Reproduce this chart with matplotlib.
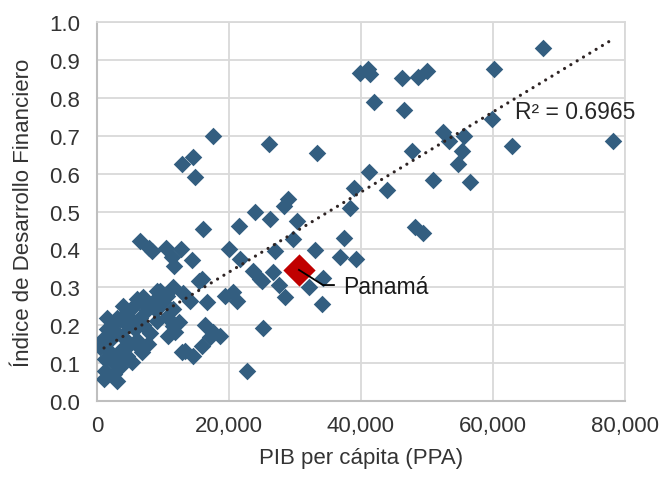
import matplotlib
matplotlib.use("Agg")
import matplotlib.pyplot as plt
from matplotlib.ticker import FuncFormatter

plt.rcParams['font.family'] = ['Liberation Sans', 'DejaVu Sans']

# PIB per capita (PPA) and financial development index
pib = [67600, 60100, 59800, 62900, 78200,
       39800, 41000, 41300, 46200, 48600, 50000,
       42000, 46500, 33300, 52400, 53300, 55600, 55300, 54700, 47700,
       41200, 50900, 56500, 39000, 43900, 38400, 48200, 49400, 39200,
       28900, 28300, 26200, 30300, 29700, 27000, 33000, 37400, 36800,
       26700, 25000, 27600, 28500, 32100, 34200, 34100,
       23900, 21500, 16000, 20000, 21700, 23600, 24700,
       17600, 14500, 12900, 14800, 26100,
       6500, 7900, 10500, 12700,
       11400, 14400, 11700, 15900, 16700, 19400, 20600, 21200,
       16400, 17600, 18600, 15900, 25100, 22700,
       11500, 13000, 14100, 12900, 14500, 11500, 11800, 12400,
       9100, 7000, 10600, 15500, 10700, 11500, 13300, 17100, 10600, 9100,
       8300, 7000, 5500, 4500, 3500, 2400, 1500, 900, 500, 1200, 1200,
       1000, 3000, 7700, 6800, 5300, 3800, 5800,
       2000, 3000, 4000, 5000, 6000, 2500, 3500, 4500, 2000, 3000,
       4500, 5500, 6500, 7500, 8500, 9500, 6000, 4000, 3000, 2500,
       4000, 6500, 8000, 9000, 7000, 1500, 10000]
idf = [0.931, 0.876, 0.744, 0.673, 0.686,
       0.865, 0.876, 0.863, 0.852, 0.855, 0.871,
       0.789, 0.769, 0.655, 0.710, 0.686, 0.700, 0.660, 0.625, 0.660,
       0.604, 0.582, 0.578, 0.563, 0.557, 0.508, 0.459, 0.442, 0.375,
       0.533, 0.515, 0.480, 0.475, 0.427, 0.396, 0.398, 0.430, 0.380,
       0.340, 0.317, 0.306, 0.274, 0.301, 0.325, 0.256,
       0.499, 0.462, 0.454, 0.401, 0.375, 0.343, 0.322,
       0.699, 0.644, 0.625, 0.591, 0.678,
       0.422, 0.404, 0.405, 0.400,
       0.380, 0.372, 0.356, 0.322, 0.261, 0.277, 0.288, 0.264,
       0.200, 0.182, 0.172, 0.145, 0.193, 0.079,
       0.301, 0.285, 0.264, 0.129, 0.119, 0.243, 0.182, 0.209,
       0.290, 0.274, 0.277, 0.317, 0.172, 0.198, 0.132, 0.169, 0.222, 0.211,
       0.396, 0.261, 0.248, 0.235, 0.216, 0.203, 0.190, 0.164, 0.142, 0.111, 0.079,
       0.058, 0.053, 0.150, 0.129, 0.103, 0.172, 0.190,
       0.13, 0.12, 0.14, 0.15, 0.16, 0.10, 0.09, 0.12, 0.16, 0.18,
       0.20, 0.21, 0.22, 0.24, 0.26, 0.29, 0.27, 0.25, 0.22, 0.07,
       0.11, 0.14, 0.18, 0.24, 0.20, 0.22, 0.26]

panama_pib = 30600
panama_idf = 0.346

# linear trendline (Excel), R2 as printed
trend_a = 0.1288
trend_b = 1.0565e-5
trend_x = [1060, 78200]
r2 = 0.6965

fig = plt.figure(figsize=(6.65, 4.81), dpi=100)
ax = fig.add_axes([0.1459, 0.1642, 0.7939, 0.788])

blue = '#335E80'
ax.scatter(pib, idf, marker='D', s=80, color=blue, linewidths=0, zorder=3)
ax.scatter([panama_pib], [panama_idf], marker='D', s=270, color='#C00000',
           linewidths=0, zorder=4)

ty = [trend_a + trend_b * x for x in trend_x]
ax.plot(trend_x, ty, color='#2e2424', lw=2.3, linestyle=(0, (0.01, 2.3)),
        dash_capstyle='round', zorder=5)

ax.text(63300, 0.763, 'R² = %.4f' % r2, fontsize=16.5, color='#262626',
        va='center', ha='left', zorder=6)

ax.plot([panama_pib, 34240, 35900], [panama_idf, 0.306, 0.306],
        color='black', lw=1.3, zorder=6)
ax.text(37270, 0.303, 'Panamá', fontsize=16.5, color='#1a1a1a',
        va='center', ha='left', zorder=6)

ax.set_xlim(0, 80000)
ax.set_ylim(0, 1.0)
ax.set_xticks([0, 20000, 40000, 60000, 80000])
ax.set_yticks([i / 10 for i in range(11)])
ax.xaxis.set_major_formatter(FuncFormatter(lambda v, p: '{:,.0f}'.format(v)))
ax.yaxis.set_major_formatter(FuncFormatter(lambda v, p: '%.1f' % v))
ax.tick_params(length=0, labelsize=16, labelcolor='#333333')
ax.tick_params(axis='x', pad=10)
ax.tick_params(axis='y', pad=12)

ax.grid(True, color='#D9D9D9', lw=1.3, zorder=0)
ax.set_axisbelow(True)
for s in ['top', 'right']:
    ax.spines[s].set_color('#D9D9D9')
    ax.spines[s].set_linewidth(1.3)
for s in ['left', 'bottom']:
    ax.spines[s].set_color('#BFBFBF')
    ax.spines[s].set_linewidth(1.5)

ax.set_xlabel('PIB per cápita (PPA)', fontsize=16, color='#333333', labelpad=8)
ax.set_ylabel('Índice de Desarrollo Financiero', fontsize=16, color='#333333',
              labelpad=11)

fig.savefig('out.png', dpi=100)
